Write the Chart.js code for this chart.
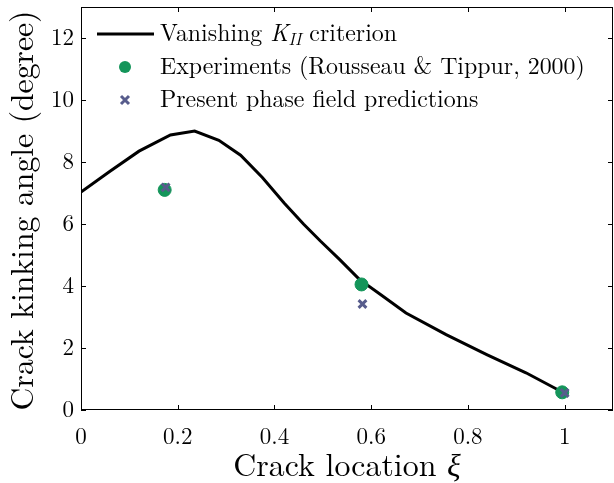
<!DOCTYPE html>
<html><head><meta charset="utf-8">
<script src="https://cdn.jsdelivr.net/npm/chart.js@4"></script>
<style>html,body{margin:0;padding:0;background:#fff;overflow:hidden}#wrap{width:614px;height:483px}canvas{display:block}</style>
</head><body><div id="wrap"><canvas id="c" width="614" height="483"></canvas></div>
<script>
const curveXi    = [0, 0.06, 0.12, 0.185, 0.235, 0.285, 0.33, 0.375, 0.42, 0.46, 0.495, 0.535, 0.575, 0.62, 0.672, 0.755, 0.84, 0.92, 0.99];
const curveAngle = [7.03, 7.7, 8.35, 8.87, 9.0, 8.7, 8.22, 7.5, 6.68, 6.0, 5.45, 4.85, 4.22, 3.72, 3.13, 2.43, 1.78, 1.2, 0.62];
const expXi      = [0.173, 0.58, 0.995];
const expAngle   = [7.1, 4.05, 0.57];
const predXi     = [0.175, 0.582, 1.0];
const predAngle  = [7.18, 3.42, 0.55];
const xTickLabels = ["0", "0.2", "0.4", "0.6", "0.8", "1"];
const yTickLabels = ["0", "2", "4", "6", "8", "10", "12"];
const legendLabels = ["Vanishing K_II criterion", "Experiments (Rousseau & Tippur, 2000)", "Present phase field predictions"];
const xTitle = "Crack location ξ";
const yTitle = "Crack kinking angle (degree)";

const SERIF = '"Latin Modern Roman", "CMU Serif", "Liberation Serif", serif';
const GREEN = '#14955a';
const SLATE = '#575c8c';

function zip(a, b) { return a.map((v, i) => ({x: v, y: b[i]})); }

const mctx = document.createElement('canvas').getContext('2d');
function sizeFor(text, target) {
  mctx.font = `100px ${SERIF}`;
  return 100 * target / mctx.measureText(text).width;
}

function drawRuns(ctx, runs, x, y, align) {
  let w = 0;
  runs.forEach(r => { ctx.font = r.font; r.w = ctx.measureText(r.t).width; w += r.w; });
  ctx.save();
  ctx.translate(x, y);
  let cx = align === 'center' ? -w / 2 : 0;
  ctx.textBaseline = 'alphabetic';
  ctx.textAlign = 'left';
  runs.forEach(r => { ctx.font = r.font; ctx.fillText(r.t, cx, r.dy || 0); cx += r.w; });
  ctx.restore();
}

function zeroPad(s) { s.paddingLeft = 0; s.paddingRight = 0; s.paddingTop = 0; s.paddingBottom = 0; }

const decor = {
  id: 'decor',
  afterDraw(chart) {
    const ctx = chart.ctx, a = chart.chartArea;
    const xs = chart.scales.x, ys = chart.scales.y;
    ctx.save();
    ctx.strokeStyle = '#000';
    ctx.lineWidth = 1;
    ctx.strokeRect(a.left + 0.5, a.top + 0.5, a.right - a.left - 1, a.bottom - a.top - 1);
    const L = 5;
    ctx.beginPath();
    xs.ticks.forEach(t => {
      const px = Math.round(xs.getPixelForValue(t.value)) + 0.5;
      ctx.moveTo(px, a.bottom); ctx.lineTo(px, a.bottom - L);
      ctx.moveTo(px, a.top); ctx.lineTo(px, a.top + L);
    });
    ys.ticks.forEach(t => {
      const py = Math.round(ys.getPixelForValue(t.value)) + 0.5;
      ctx.moveTo(a.left, py); ctx.lineTo(a.left + L, py);
      ctx.moveTo(a.right, py); ctx.lineTo(a.right - L, py);
    });
    ctx.stroke();

    ctx.fillStyle = '#000';
    const ts = sizeFor(xTitle, 228);
    const tparts = xTitle.split('ξ');
    drawRuns(ctx, [
      {t: tparts[0], font: `${ts}px ${SERIF}`},
      {t: 'ξ', font: `italic ${ts}px ${SERIF}`}
    ], (a.left + a.right) / 2, 476, 'center');
    ctx.save();
    ctx.translate(33, (a.top + a.bottom) / 2 + 2);
    ctx.rotate(-Math.PI / 2);
    const ys2 = sizeFor(yTitle, 400);
    drawRuns(ctx, [{t: yTitle, font: `${ys2}px ${SERIF}`}], 0, 0, 'center');
    ctx.restore();

    const rows = [34, 67, 100];
    const tx = 160;
    ctx.strokeStyle = '#000'; ctx.lineWidth = 3;
    ctx.beginPath(); ctx.moveTo(97, rows[0]); ctx.lineTo(154, rows[0]); ctx.stroke();
    ctx.fillStyle = GREEN;
    ctx.beginPath(); ctx.arc(125, rows[1], 6, 0, Math.PI * 2); ctx.fill();
    ctx.strokeStyle = SLATE; ctx.lineWidth = 3;
    ctx.beginPath();
    ctx.moveTo(121, rows[2] - 4); ctx.lineTo(129, rows[2] + 4);
    ctx.moveTo(129, rows[2] - 4); ctx.lineTo(121, rows[2] + 4);
    ctx.stroke();
    ctx.fillStyle = '#000';
    const ls = sizeFor(legendLabels[1], 425);
    const parts = legendLabels[0].split('K_II');
    drawRuns(ctx, [
      {t: parts[0], font: `${ls}px ${SERIF}`},
      {t: 'K', font: `italic ${ls}px ${SERIF}`},
      {t: 'II', font: `italic ${ls * 0.7}px ${SERIF}`, dy: ls * 0.18},
      {t: ' ' + parts[1].trim(), font: `${ls}px ${SERIF}`}
    ], tx, rows[0] + 7, 'left');
    drawRuns(ctx, [{t: legendLabels[1], font: `${ls}px ${SERIF}`}], tx, rows[1] + 7, 'left');
    drawRuns(ctx, [{t: legendLabels[2], font: `${ls}px ${SERIF}`}], tx, rows[2] + 7, 'left');
    ctx.restore();
  }
};

function build() {
  new Chart(document.getElementById('c'), {
    type: 'scatter',
    data: {
      datasets: [
        {label: legendLabels[0], type: 'line', data: zip(curveXi, curveAngle), borderColor: '#000', borderWidth: 3, pointRadius: 0, tension: 0, fill: false, order: 3},
        {label: legendLabels[1], data: zip(expXi, expAngle), backgroundColor: GREEN, borderColor: GREEN, pointRadius: 6.5, pointStyle: 'circle', order: 2},
        {label: legendLabels[2], data: zip(predXi, predAngle), backgroundColor: SLATE, borderColor: SLATE, pointRadius: 5.5, borderWidth: 3, pointStyle: 'crossRot', order: 1}
      ]
    },
    options: {
      responsive: false,
      animation: false,
      devicePixelRatio: 1,
      layout: {autoPadding: false, padding: {top: 7, right: 1, left: 0, bottom: 0}},
      plugins: {legend: {display: false}, tooltip: {enabled: false}},
      scales: {
        x: {
          type: 'linear', min: 0, max: 1.1,
          grid: {display: false, drawTicks: false}, border: {display: false},
          ticks: {stepSize: 0.2, includeBounds: false, padding: 13, color: '#000', font: {family: SERIF, size: 23},
            callback: (v) => { const i = Math.round(v / 0.2); return Math.abs(v - i * 0.2) < 1e-6 ? xTickLabels[i] : ''; }},
          afterFit(s) { s.height = 73; zeroPad(s); }
        },
        y: {
          type: 'linear', min: 0, max: 13,
          grid: {display: false, drawTicks: false}, border: {display: false},
          ticks: {stepSize: 2, includeBounds: false, padding: 7, color: '#000', font: {family: SERIF, size: 23},
            callback: (v) => yTickLabels[Math.round(v / 2)] ?? ''},
          afterFit(s) { s.width = 81; zeroPad(s); }
        }
      }
    },
    plugins: [decor]
  });
}
if (document.fonts && document.fonts.load) {
  Promise.all([
    document.fonts.load('23px "Latin Modern Roman"'),
    document.fonts.load('italic 23px "Latin Modern Roman"')
  ]).then(build, build);
} else { build(); }
</script>
</body></html>
